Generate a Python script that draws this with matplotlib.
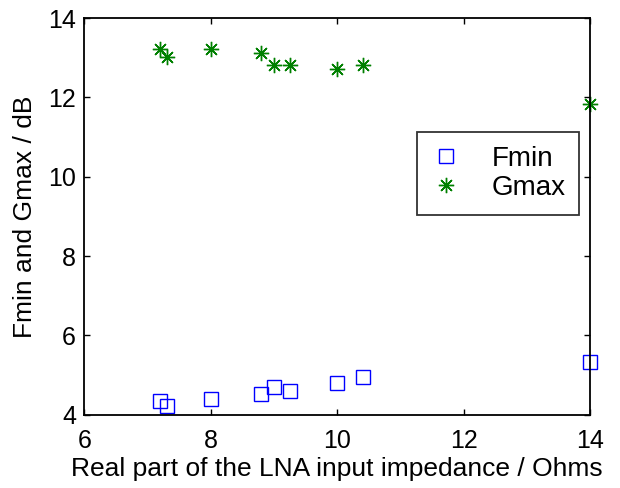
import matplotlib
matplotlib.use('Agg')
import matplotlib.pyplot as plt

plt.rcParams['font.family'] = ['Liberation Sans', 'DejaVu Sans']

# Datos
impedancia = [7.2, 7.3, 8.0, 8.8, 9.0, 9.25, 10.0, 10.4, 14.0]
fmin = [4.35, 4.23, 4.41, 4.53, 4.71, 4.59, 4.81, 4.96, 5.33]
gmax = [13.21, 13.01, 13.21, 13.11, 12.82, 12.82, 12.71, 12.82, 11.83]

xticks = [6, 8, 10, 12, 14]
yticks = [4, 6, 8, 10, 12, 14]

fig = plt.figure(figsize=(6.2, 4.88), dpi=100)
ax = fig.add_axes([0.136, 0.150, 0.816, 0.813])

ax.plot(impedancia, fmin, linestyle='none', marker='s', markersize=9.5,
        markerfacecolor='none', markeredgecolor='#0000ff', markeredgewidth=1.0,
        label='Fmin', clip_on=False)
ax.plot(impedancia, gmax, linestyle='none', marker=(8, 2, 0), markersize=11,
        color='#008000', markeredgewidth=1.0, label='Gmax', clip_on=False)

ax.set_xlim(6, 14)
ax.set_ylim(4, 14)
ax.set_xticks(xticks)
ax.set_yticks(yticks)
ax.tick_params(direction='in', top=True, right=True, length=4, width=1,
               labelsize=18)
ax.tick_params(axis='x', pad=10)
ax.tick_params(axis='y', pad=6)
for s in ax.spines.values():
    s.set_linewidth(1.3)

ax.set_xlabel('Real part of the LNA input impedance / Ohms', fontsize=19, labelpad=3)
ax.set_ylabel('Fmin and Gmax / dB', fontsize=19, labelpad=8)

leg = ax.legend(loc='upper left', bbox_to_anchor=(0.658, 0.713), fontsize=20,
                frameon=True, fancybox=False, edgecolor='black',
                borderpad=0.5, handletextpad=1.12, labelspacing=0.12,
                handlelength=1.05, borderaxespad=0)
leg.get_frame().set_linewidth(1.3)

fig.savefig('out.png', dpi=100)
